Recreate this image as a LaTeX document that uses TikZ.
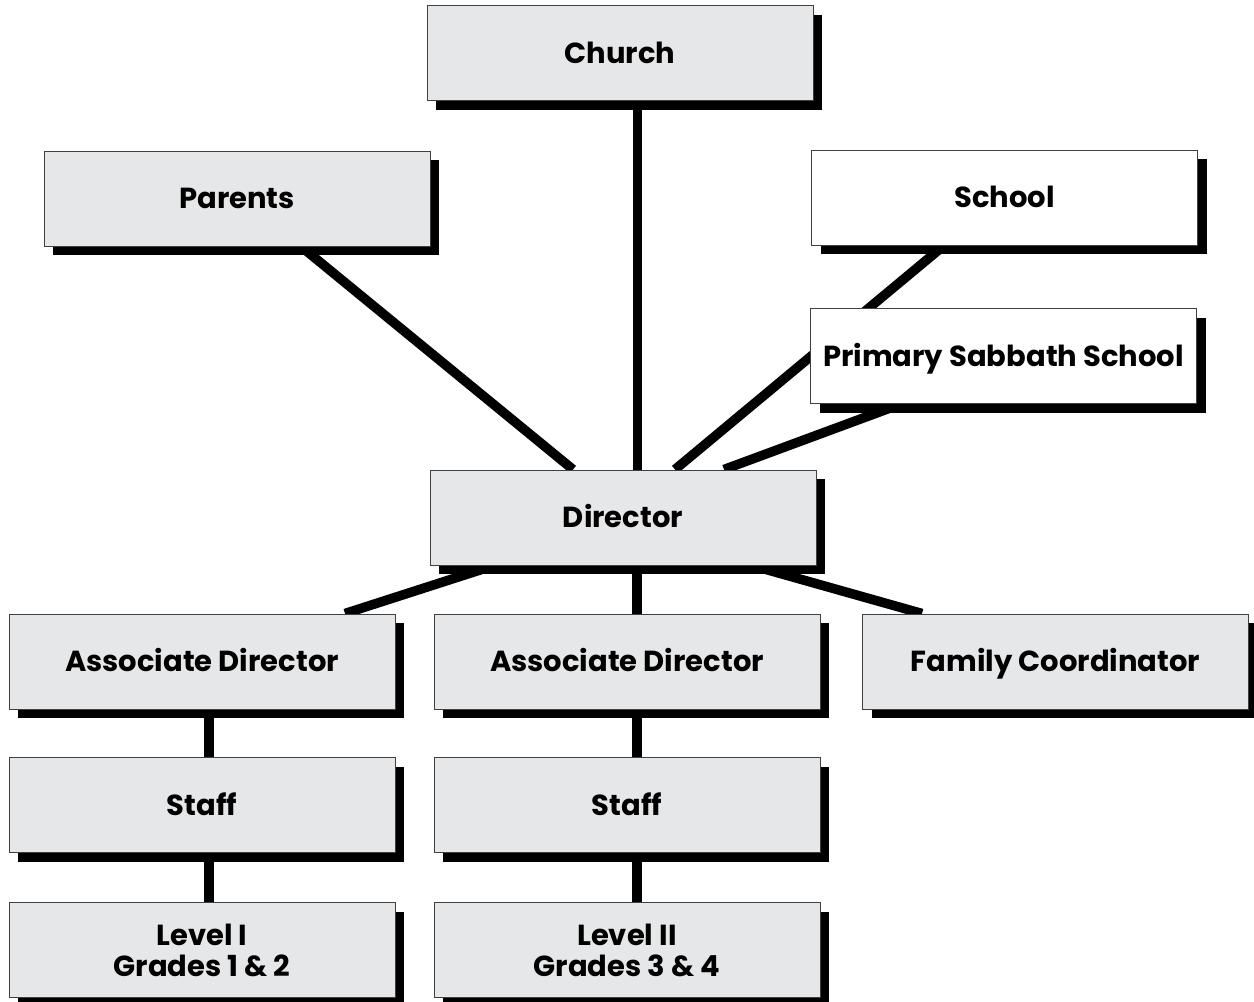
\documentclass[tikz,border=0pt]{standalone}
\usepackage{fontspec}
\setmainfont{Poppins}
\usetikzlibrary{shadows,backgrounds}
\definecolor{boxgray}{HTML}{E6E7E8}
\begin{document}
\begin{tikzpicture}[x=1pt,y=-1pt,
  orgbox/.style={draw=black!75, line width=1pt, fill=boxgray,
    minimum width=386pt, minimum height=95pt, inner sep=0pt,
    font=\fontsize{29}{31}\selectfont\bfseries, align=center,
    drop shadow={shadow xshift=9pt, shadow yshift=-9pt, fill=black, opacity=1}},
  whitebox/.style={orgbox, fill=white},
  capc/.style={text height=20pt, text depth=0pt},
  conn/.style={line width=9.5pt, black}]
\clip (0,0) rectangle (1254,1002);
\node[orgbox,capc] (church) at (620,53) {Church};
\node[orgbox,capc] (parents) at (237,198.5) {Parents};
\node[whitebox,capc] (school) at (1004.5,197.5) {School};
\node[whitebox,capc] (pss) at (1003.5,356) {Primary Sabbath School};
\node[orgbox,capc] (director) at (623,517.5) {Director};
\node[orgbox,capc] (ad1) at (202,661.5) {Associate Director};
\node[orgbox,capc] (ad2) at (627,661.5) {Associate Director};
\node[orgbox,capc] (fc) at (1055.5,661.5) {Family Coordinator};
\node[orgbox,capc] (staff1) at (202,805) {Staff};
\node[orgbox,capc] (staff2) at (627,805) {Staff};
\node[orgbox] (lev1) at (202,950) {Level I\\Grades 1 \& 2};
\node[orgbox] (lev2) at (627,950) {Level II\\Grades 3 \& 4};
\begin{scope}[on background layer]
\fill[white] (0,0) rectangle (1254,1002);
\draw[conn] ([xshift=17.5pt]church.south) -- ([xshift=14.5pt]director.north);
\draw[conn] ([xshift=64pt]parents.south) -- ([xshift=-50pt]director.north);
\draw[conn] ([xshift=-60.5pt]school.south) -- ([xshift=52pt]director.north);
\draw[conn] ([xshift=-102.5pt]pss.south) -- ([xshift=101pt]director.north);
\draw[conn] ([xshift=-129pt]director.south) -- ([xshift=143pt]ad1.north);
\draw[conn] ([xshift=14pt]director.south) -- ([xshift=10pt]ad2.north);
\draw[conn] ([xshift=129pt]director.south) -- ([xshift=-133.5pt]fc.north);
\draw[conn] ([xshift=7pt]ad1.south) -- ([xshift=7pt]staff1.north);
\draw[conn] ([xshift=7pt]staff1.south) -- ([xshift=7pt]lev1.north);
\draw[conn] ([xshift=10pt]ad2.south) -- ([xshift=10pt]staff2.north);
\draw[conn] ([xshift=10pt]staff2.south) -- ([xshift=10pt]lev2.north);
\end{scope}
\end{tikzpicture}
\end{document}
